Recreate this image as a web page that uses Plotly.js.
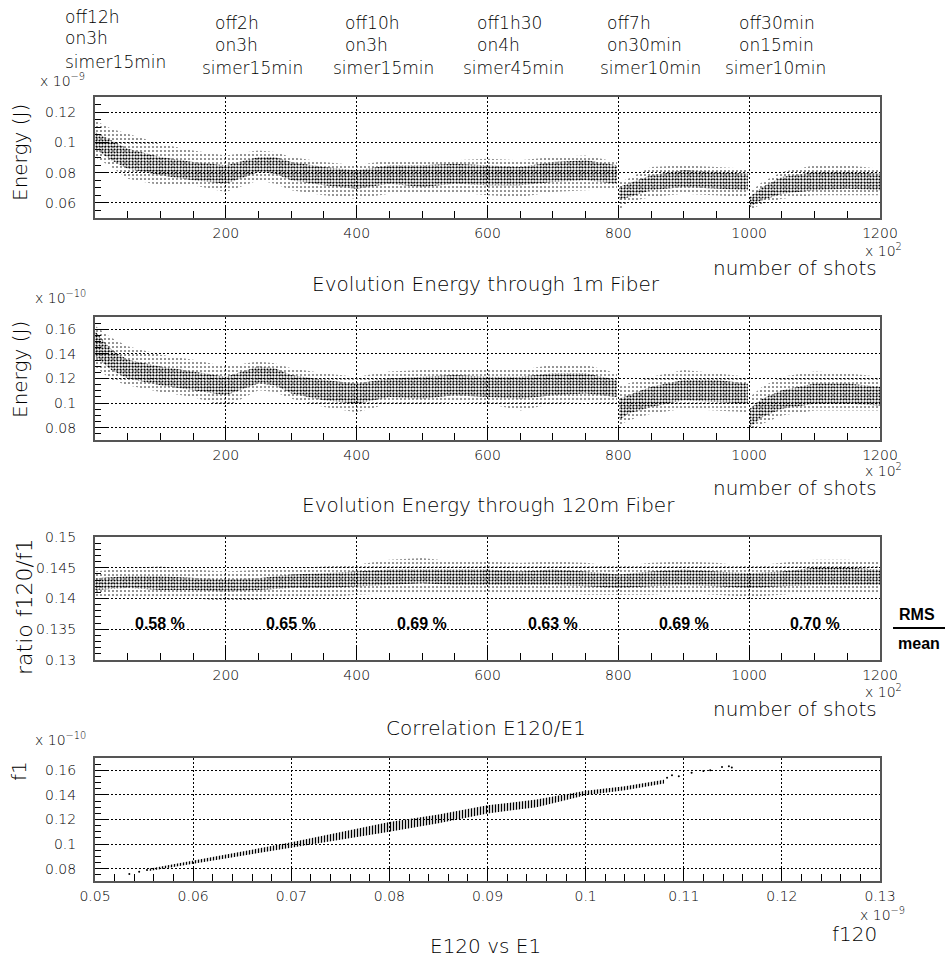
<!DOCTYPE html>
<html>
<head>
<meta charset="utf-8">
<script src="https://cdn.plot.ly/plotly-3.0.1.min.js"></script>
<style>html,body{margin:0;padding:0;background:#fff;}#chart{width:947px;height:959px;}</style>
</head>
<body>
<div id="chart"></div>
<script>
// ---------------- DATA ----------------
// number of shots (x 10^2), three acquisition segments
const shotsA = [0,25,50,100,150,200,250,275,300,350,400,450,500,550,600,650,700,750,798];
const shotsB = [801,815,850,900,950,998];
const shotsC = [1001,1020,1050,1100,1150,1200];

// Panel 1: energy through 1m fiber (x 10^-9 J): outer envelope and dense core of the point cloud
const e1A_outerHi = [0.1145,0.1090,0.1057,0.0991,0.0947,0.0914,0.0947,0.0936,0.0903,0.0870,0.0848,0.0881,0.0881,0.0881,0.0892,0.0881,0.0903,0.0914,0.0870];
const e1A_coreHi  = [0.1068,0.1013,0.0958,0.0903,0.0870,0.0848,0.0903,0.0903,0.0870,0.0837,0.0815,0.0848,0.0848,0.0859,0.0848,0.0837,0.0870,0.0881,0.0848];
const e1A_coreLo  = [0.0958,0.0881,0.0826,0.0782,0.0749,0.0727,0.0804,0.0793,0.0749,0.0716,0.0694,0.0727,0.0705,0.0727,0.0716,0.0716,0.0738,0.0749,0.0727];
const e1A_outerLo = [0.0903,0.0837,0.0760,0.0716,0.0716,0.0672,0.0749,0.0727,0.0683,0.0650,0.0628,0.0661,0.0661,0.0672,0.0650,0.0639,0.0672,0.0683,0.0694];
const e1B_outerHi = [0.0738,0.0760,0.0837,0.0848,0.0837,0.0826];
const e1B_coreHi  = [0.0705,0.0727,0.0782,0.0815,0.0804,0.0793];
const e1B_coreLo  = [0.0617,0.0639,0.0683,0.0705,0.0694,0.0683];
const e1B_outerLo = [0.0551,0.0606,0.0639,0.0661,0.0650,0.0639];
const e1C_outerHi = [0.0672,0.0738,0.0804,0.0848,0.0848,0.0826];
const e1C_coreHi  = [0.0639,0.0705,0.0771,0.0804,0.0804,0.0793];
const e1C_coreLo  = [0.0573,0.0617,0.0661,0.0683,0.0694,0.0683];
const e1C_outerLo = [0.0551,0.0595,0.0628,0.0650,0.0650,0.0650];

// Panel 2: energy through 120m fiber (x 10^-10 J)
const e120A_outerHi = [0.1628,0.1531,0.1463,0.1394,0.1353,0.1298,0.1339,0.1325,0.1284,0.1243,0.1215,0.1256,0.1270,0.1284,0.1284,0.1270,0.1311,0.1311,0.1243];
const e120A_coreHi  = [0.1586,0.1435,0.1353,0.1298,0.1256,0.1215,0.1298,0.1284,0.1229,0.1188,0.1160,0.1201,0.1215,0.1229,0.1215,0.1215,0.1243,0.1243,0.1188];
const e120A_coreLo  = [0.1380,0.1270,0.1201,0.1146,0.1105,0.1064,0.1160,0.1146,0.1078,0.1023,0.0995,0.1050,0.1036,0.1064,0.1050,0.1036,0.1064,0.1078,0.1050];
const e120A_outerLo = [0.1298,0.1188,0.1146,0.1091,0.1050,0.0968,0.1105,0.1091,0.1036,0.0968,0.0926,0.0995,0.0981,0.1009,0.0995,0.0940,0.0995,0.1009,0.0995];
const e120B_outerHi = [0.1133,0.1160,0.1215,0.1270,0.1243,0.1215];
const e120B_coreHi  = [0.1036,0.1064,0.1133,0.1188,0.1188,0.1160];
const e120B_coreLo  = [0.0858,0.0913,0.0968,0.1023,0.1009,0.0995];
const e120B_outerLo = [0.0816,0.0858,0.0913,0.0954,0.0940,0.0926];
const e120C_outerHi = [0.1050,0.1133,0.1215,0.1256,0.1243,0.1215];
const e120C_coreHi  = [0.0954,0.1036,0.1105,0.1160,0.1160,0.1133];
const e120C_coreLo  = [0.0803,0.0885,0.0954,0.0995,0.0995,0.0981];
const e120C_outerLo = [0.0775,0.0830,0.0899,0.0940,0.0940,0.0940];

// Panel 3: ratio f120/f1
const ratioShots   = [0,50,100,150,200,250,300,350,400,450,500,550,600,650,700,750,800,850,900,950,1000,1050,1100,1150,1200];
const ratioOuterHi = [0.1444,0.1450,0.1452,0.1447,0.1444,0.1447,0.1450,0.1452,0.1455,0.1463,0.1466,0.1460,0.1460,0.1458,0.1460,0.1458,0.1452,0.1458,0.1460,0.1458,0.1452,0.1458,0.1463,0.1463,0.1460];
const ratioCoreHi  = [0.1433,0.1436,0.1436,0.1433,0.1431,0.1433,0.1439,0.1441,0.1444,0.1447,0.1447,0.1447,0.1447,0.1444,0.1447,0.1444,0.1439,0.1444,0.1447,0.1444,0.1441,0.1444,0.1450,0.1450,0.1447];
const ratioCoreLo  = [0.1414,0.1417,0.1414,0.1414,0.1411,0.1414,0.1417,0.1417,0.1420,0.1422,0.1425,0.1422,0.1422,0.1422,0.1422,0.1420,0.1417,0.1420,0.1422,0.1420,0.1417,0.1420,0.1422,0.1422,0.1422];
const ratioOuterLo = [0.1403,0.1403,0.1403,0.1401,0.1395,0.1398,0.1403,0.1401,0.1406,0.1409,0.1411,0.1409,0.1409,0.1409,0.1409,0.1406,0.1406,0.1406,0.1409,0.1406,0.1403,0.1406,0.1411,0.1411,0.1409];
const rmsCenters = [100,300,500,700,900,1100];
const rmsLabels  = ['0.58 %','0.65 %','0.69 %','0.63 %','0.69 %','0.70 %'];

// Panel 4: E120 vs E1 correlation (f120 x 10^-9, f1 x 10^-10)
const corrX  = [0.0555,0.058,0.060,0.065,0.070,0.075,0.080,0.085,0.090,0.095,0.100,0.104,0.108];
const corrHi = [0.0800,0.0838,0.0870,0.0940,0.1015,0.1095,0.1180,0.1240,0.1315,0.1362,0.1433,0.1470,0.1524];
const corrLo = [0.0782,0.0812,0.0838,0.0900,0.0965,0.1035,0.1100,0.1170,0.1249,0.1300,0.1398,0.1438,0.1492];
const corrSparseX = [0.0535,0.0545,0.0553,0.1083,0.1088,0.1095,0.1108,0.1120,0.1127,0.1139,0.1146,0.1149];
const corrSparseY = [0.0756,0.0775,0.0790,0.1540,0.1560,0.1552,0.1581,0.1595,0.1600,0.1627,0.1632,0.1622];

// Top annotations (run conditions)
const runNotes = [
  ['off12h','on3h','simer15min'],
  ['off2h','on3h','simer15min'],
  ['off10h','on3h','simer15min'],
  ['off1h30','on4h','simer45min'],
  ['off7h','on30min','simer10min'],
  ['off30min','on15min','simer10min']
];

// ---------------- LAYOUT HELPERS ----------------
const W = 947, H = 959;
const FONT = 'DejaVu Sans, Liberation Sans, sans-serif';
const WT = 300;
const BOLD = 'Liberation Sans Narrow, Liberation Sans, Arial, sans-serif';
const px = v => v / W;
const py = v => 1 - v / H;
function seq(a, b, s) { const r = []; for (let v = a; v <= b + 1e-12; v += s) r.push(+v.toFixed(6)); return r; }

const outerPat = {shape: '.', fgcolor: '#000', bgcolor: 'rgba(0,0,0,0)', size: 4, solidity: 0.12};
const corePat  = {shape: '.', fgcolor: '#000', bgcolor: 'rgba(0,0,0,0)', size: 3, solidity: 0.38};
const hatchPat = {shape: '|', fgcolor: '#000', bgcolor: 'rgba(0,0,0,0)', size: 3, solidity: 0.45};

function band(xs, hi, lo, xa, ya, pat) {
  return {
    type: 'scatter', mode: 'lines',
    x: xs.concat(xs.slice().reverse()),
    y: hi.concat(lo.slice().reverse()),
    fill: 'toself', fillcolor: 'rgba(0,0,0,0)', fillpattern: pat,
    line: {width: 0, color: 'rgba(0,0,0,0)'},
    xaxis: xa, yaxis: ya, hoverinfo: 'skip', showlegend: false
  };
}

const traces = [];
[[shotsA, e1A_outerHi, e1A_outerLo, e1A_coreHi, e1A_coreLo],
 [shotsB, e1B_outerHi, e1B_outerLo, e1B_coreHi, e1B_coreLo],
 [shotsC, e1C_outerHi, e1C_outerLo, e1C_coreHi, e1C_coreLo]].forEach(s => {
  traces.push(band(s[0], s[1], s[2], 'x', 'y', outerPat));
  traces.push(band(s[0], s[3], s[4], 'x', 'y', corePat));
});
[[shotsA, e120A_outerHi, e120A_outerLo, e120A_coreHi, e120A_coreLo],
 [shotsB, e120B_outerHi, e120B_outerLo, e120B_coreHi, e120B_coreLo],
 [shotsC, e120C_outerHi, e120C_outerLo, e120C_coreHi, e120C_coreLo]].forEach(s => {
  traces.push(band(s[0], s[1], s[2], 'x2', 'y2', outerPat));
  traces.push(band(s[0], s[3], s[4], 'x2', 'y2', corePat));
});
traces.push(band(ratioShots, ratioOuterHi, ratioOuterLo, 'x3', 'y3', outerPat));
traces.push(band(ratioShots, ratioCoreHi, ratioCoreLo, 'x3', 'y3', corePat));
traces.push(band(corrX, corrHi, corrLo, 'x4', 'y4', hatchPat));
traces.push({type: 'scatter', mode: 'markers', x: corrSparseX, y: corrSparseY,
  marker: {size: 2, color: '#000'}, xaxis: 'x4', yaxis: 'y4', hoverinfo: 'skip', showlegend: false});

// ---------------- AXES ----------------
const XDOM = [95 / W, 880 / W];
function xAx(domain, range, tickvals, ticktext, minorVals, anchor) {
  return {
    domain, range, tickmode: 'array', tickvals, ticktext,
    ticks: 'inside', ticklen: 13, tickwidth: 1, tickcolor: '#000',
    minor: {tickmode: 'array', tickvals: minorVals, ticks: 'inside', ticklen: 7, tickwidth: 1, tickcolor: '#000', showgrid: false},
    showgrid: true, gridcolor: '#000', gridwidth: 1, griddash: '2px,2px',
    showline: true, linecolor: '#555', linewidth: 2, mirror: true, zeroline: false,
    tickfont: {family: FONT, size: 14, color: '#000', weight: WT}, ticklabelstandoff: 1,
    anchor, fixedrange: true
  };
}
function yAx(domain, range, tickvals, ticktext, minorVals, anchor) {
  return {
    domain, range, tickmode: 'array', tickvals, ticktext,
    ticks: 'inside', ticklen: 12, tickwidth: 1, tickcolor: '#000',
    minor: {tickmode: 'array', tickvals: minorVals, ticks: 'inside', ticklen: 6, tickwidth: 1, tickcolor: '#000', showgrid: false},
    showgrid: true, gridcolor: '#000', gridwidth: 1, griddash: '2px,2px',
    showline: true, linecolor: '#555', linewidth: 2, mirror: true, zeroline: false,
    tickfont: {family: FONT, size: 14, color: '#000', weight: WT}, ticklabelstandoff: 14,
    anchor, fixedrange: true
  };
}
const shotTicks = [200, 400, 600, 800, 1000, 1200];
const shotText = ['200', '400', '600', '800', '1000', '1200'];
const shotMinor = seq(0, 1200, 50);

// ---------------- ANNOTATIONS ----------------
const ann = [];
function A(text, x, y, o) {
  ann.push(Object.assign({text, xref: 'paper', yref: 'paper', x: px(x), y: py(y), showarrow: false,
    xanchor: 'center', yanchor: 'middle', font: {family: FONT, size: 17, color: '#000', weight: WT}}, o || {}));
}
const noteX = [[63, 63, 63], [213, 213, 200], [343, 343, 331], [475, 475, 461], [605, 605, 598], [737, 737, 723]];
const noteY = [[17, 38, 62], [23, 45, 68], [23, 45, 68], [23, 45, 68], [23, 45, 68], [23, 45, 68]];
runNotes.forEach((g, i) => g.forEach((t, j) => A(t, noteX[i][j], noteY[i][j], {xanchor: 'left'})));

const tf = {family: FONT, size: 20, color: '#000', weight: WT};
A('Evolution Energy through 1m Fiber', 486, 284, {font: tf});
A('Evolution Energy through 120m Fiber', 488, 505, {font: tf});
A('Correlation E120/E1', 486, 728, {font: tf});
A('E120 vs E1', 485, 946, {font: tf});
[268, 488, 709].forEach(y => A('number of shots', 879, y, {xanchor: 'right', font: tf}));
A('f120', 879, 934, {xanchor: 'right', font: tf});

A('Energy (J)', 20, 153, {textangle: -90, font: tf});
A('Energy (J)', 20, 370, {textangle: -90, font: tf});
A('ratio f120/f1', 24, 607, {textangle: -90, font: {family: FONT, size: 22, color: '#000', weight: WT}});
A('f1', 19, 771, {textangle: -90, font: tf});

const ef = {family: FONT, size: 14, color: '#000', weight: WT};
A('x 10<sup>−9</sup>', 38, 80, {xanchor: 'left', font: ef});
A('x 10<sup>−10</sup>', 33, 297, {xanchor: 'left', font: ef});
A('x 10<sup>−10</sup>', 33, 739, {xanchor: 'left', font: ef});
[250, 470, 691].forEach(y => A('x 10<sup>2</sup>', 863, y, {xanchor: 'left', font: ef}));
A('x 10<sup>−9</sup>', 858, 914, {xanchor: 'left', font: ef});

const bf = {family: BOLD, size: 16, color: '#000', weight: 'bold'};
rmsCenters.forEach((c, i) => ann.push({text: '<b>' + rmsLabels[i] + '</b>', xref: 'x3', yref: 'y3', x: c, y: 0.1360,
  showarrow: false, xanchor: 'center', yanchor: 'middle', font: bf}));
A('<b>RMS</b>', 917, 614, {font: bf});
A('<b>mean</b>', 919, 643, {font: bf});

const layout = {
  width: W, height: H, margin: {l: 0, r: 0, t: 0, b: 0},
  paper_bgcolor: '#fff', plot_bgcolor: 'rgba(0,0,0,0)', showlegend: false,
  xaxis:  xAx(XDOM, [0, 1200], shotTicks, shotText, shotMinor, 'y'),
  yaxis:  yAx([1 - 218 / H, 1 - 97 / H], [0.05, 0.13], [0.06, 0.08, 0.1, 0.12], ['0.06', '0.08', '0.1', '0.12'], seq(0.05, 0.13, 0.005), 'x'),
  xaxis2: xAx(XDOM, [0, 1200], shotTicks, shotText, shotMinor, 'y2'),
  yaxis2: yAx([1 - 440 / H, 1 - 317 / H], [0.07, 0.17], [0.08, 0.1, 0.12, 0.14, 0.16], ['0.08', '0.1', '0.12', '0.14', '0.16'], seq(0.07, 0.17, 0.005), 'x2'),
  xaxis3: xAx(XDOM, [0, 1200], shotTicks, shotText, shotMinor, 'y3'),
  yaxis3: yAx([1 - 660 / H, 1 - 537 / H], [0.13, 0.15], [0.13, 0.135, 0.14, 0.145, 0.15], ['0.13', '0.135', '0.14', '0.145', '0.15'], seq(0.13, 0.15, 0.001), 'x3'),
  xaxis4: xAx(XDOM, [0.05, 0.13], [0.05, 0.06, 0.07, 0.08, 0.09, 0.1, 0.11, 0.12, 0.13], ['0.05', '0.06', '0.07', '0.08', '0.09', '0.1', '0.11', '0.12', '0.13'], seq(0.05, 0.13, 0.002), 'y4'),
  yaxis4: yAx([1 - 881 / H, 1 - 758 / H], [0.07, 0.17], [0.08, 0.1, 0.12, 0.14, 0.16], ['0.08', '0.1', '0.12', '0.14', '0.16'], seq(0.07, 0.17, 0.005), 'x4'),
  annotations: ann,
  shapes: [{type: 'line', xref: 'paper', yref: 'paper', x0: px(893), x1: px(945), y0: py(628), y1: py(628), line: {color: '#000', width: 2}}]
};

Plotly.newPlot('chart', traces, layout, {displayModeBar: false, staticPlot: true});
</script>
</body>
</html>
